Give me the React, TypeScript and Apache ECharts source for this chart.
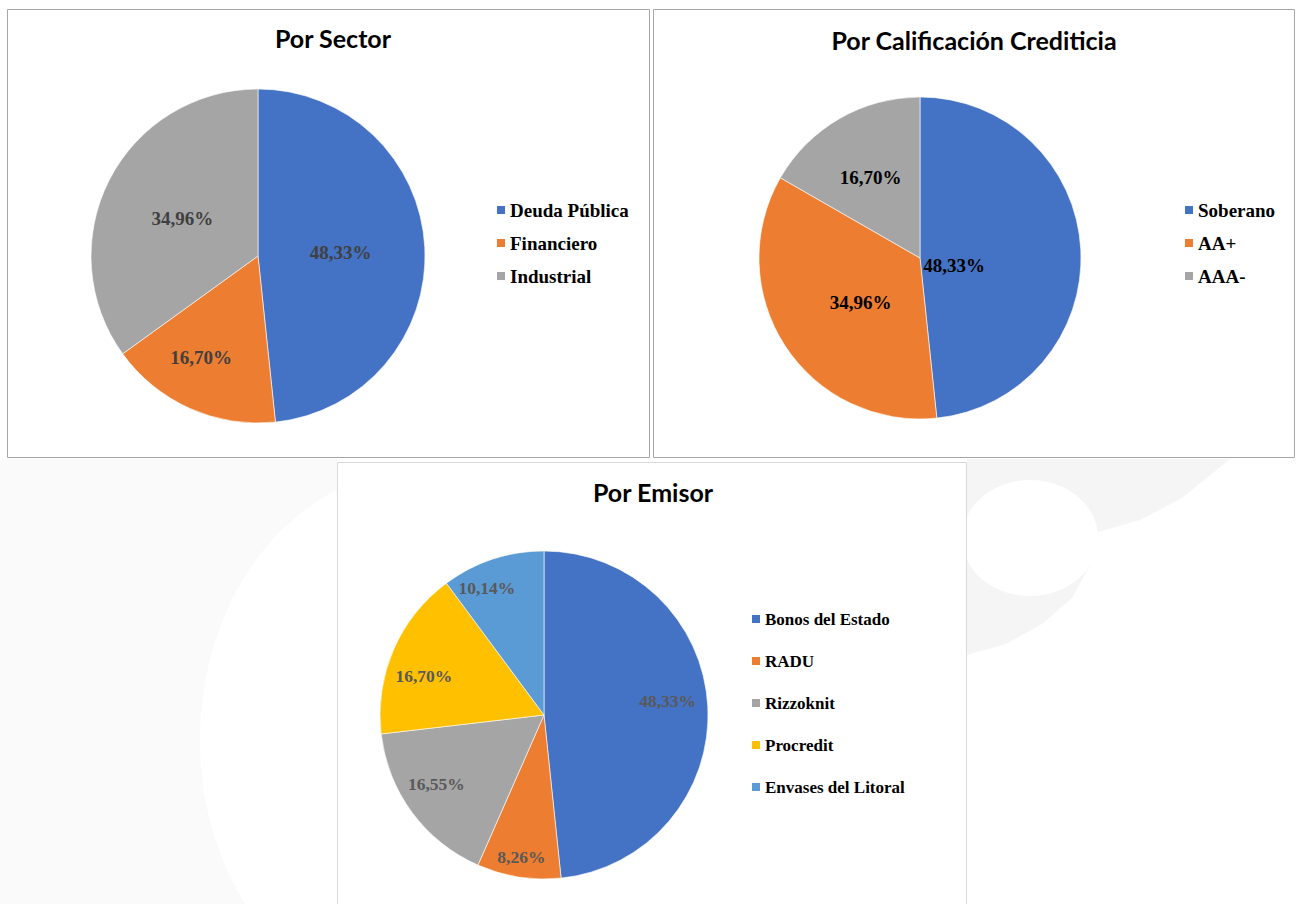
import React, { useEffect, useRef } from "react";
import * as echarts from "echarts";

// ---- data ----
const sectorNames = ["Deuda Pública", "Financiero", "Industrial"];
const sectorValues = [48.33, 16.7, 34.96];
const creditNames = ["Soberano", "AA+", "AAA-"];
const creditValues = [48.33, 34.96, 16.7];
const emisorNames = ["Bonos del Estado", "RADU", "Rizzoknit", "Procredit", "Envases del Litoral"];
const emisorValues = [48.33, 8.26, 16.55, 16.7, 10.14];

const titles = ["Por Sector", "Por Calificación Crediticia", "Por Emisor"];

const sectorColors = ["#4472C4", "#ED7D31", "#A5A5A5"];
const creditColors = ["#4472C4", "#ED7D31", "#A5A5A5"];
const emisorColors = ["#4472C4", "#ED7D31", "#A5A5A5", "#FFC000", "#5B9BD5"];

const fmt = (v: number) => v.toFixed(2).replace(".", ",") + "%";

// label placement: radial factor + small nudge per slice
const radial = (cx: number, cy: number, factors: number[], nudges: number[][]) => (p: any) => {
  const r = p.labelRect;
  const lx = r.x + r.width / 2;
  const ly = r.y + r.height / 2;
  const k = factors[p.dataIndex] ?? 1;
  const n = nudges[p.dataIndex] ?? [0, 0];
  return { dx: (lx - cx) * (k - 1) + n[0], dy: (ly - cy) * (k - 1) + n[1] };
};

const mkData = (names: string[], values: number[], colors: string[]) =>
  names.map((n, i) => ({ name: n, value: values[i], itemStyle: { color: colors[i] } }));

const serif = "'Liberation Serif', 'Times New Roman', serif";
const sans = "Lato, 'Open Sans', sans-serif";

export default function App() {
  const ref = useRef<HTMLDivElement>(null);
  useEffect(() => {
    document.body.style.margin = "0";
    const chart = echarts.init(ref.current!, null, { renderer: "svg" });
    const pieBase = (color: string, size: number) => ({
      type: "pie",
      startAngle: 90,
      clockwise: true,
      itemStyle: { borderColor: "#ffffff", borderWidth: 0.6 },
      label: {
        show: true,
        position: "inside",
        formatter: (p: any) => fmt(p.value),
        fontFamily: serif,
        fontWeight: "bold",
        fontSize: size,
        color,
      },
      labelLine: { show: false },
      emphasis: { disabled: true },
      silent: true,
    });
    const legendBase = (size: number, lh: number, gap: number) => ({
      orient: "vertical",
      icon: "rect",
      padding: 0,
      itemWidth: 10,
      itemHeight: 10,
      itemGap: gap,
      selectedMode: false,
      textStyle: { fontFamily: serif, fontWeight: "bold", fontSize: size, color: "#000", lineHeight: lh, padding: [0, 0, 0, -1] },
    });
    const titleStyle = { fontFamily: sans, fontWeight: "bold", fontSize: 25, color: "#000" };
    const option: any = {
      animation: false,
      backgroundColor: "#ffffff",
      graphic: [
        // faint watermark
        { type: "polygon", z: -20, silent: true, shape: { points: [[967, 459], [1230, 459], [1182, 498], [1140, 520], [1098, 532], [1092, 562], [1072, 598], [1042, 624], [1006, 644], [967, 655]] }, style: { fill: "#f5f5f5" } },
        { type: "ellipse", z: -19, silent: true, shape: { cx: 1030, cy: 538, rx: 68, ry: 58 }, style: { fill: "#ffffff" } },
        { type: "rect", z: -21, silent: true, shape: { x: 0, y: 459, width: 337, height: 445 }, style: { fill: "#fafafa" } },
        { type: "ellipse", z: -20, silent: true, shape: { cx: 420, cy: 740, rx: 220, ry: 270 }, style: { fill: "#ffffff" } },
        // panels
        { type: "rect", z: -10, silent: true, shape: { x: 7.5, y: 9.5, width: 642, height: 448 }, style: { fill: "#ffffff", stroke: "#a6a6a6", lineWidth: 1 } },
        { type: "rect", z: -10, silent: true, shape: { x: 653.5, y: 9.5, width: 641, height: 448 }, style: { fill: "#ffffff", stroke: "#a6a6a6", lineWidth: 1 } },
        { type: "rect", z: -10, silent: true, shape: { x: 337.5, y: 462.5, width: 629, height: 460 }, style: { fill: "#ffffff", stroke: "#d9d9d9", lineWidth: 1 } },
      ],
      title: [
        { text: titles[0], left: 333, top: 25, padding: 0, textAlign: "center", textStyle: titleStyle },
        { text: titles[1], left: 974, top: 27, padding: 0, textAlign: "center", textStyle: titleStyle },
        { text: titles[2], left: 653, top: 479, padding: 0, textAlign: "center", textStyle: titleStyle },
      ],
      legend: [
        { ...legendBase(19, 20, 13), data: sectorNames, left: 495, top: 200 },
        { ...legendBase(19, 20, 13), data: creditNames, left: 1183, top: 200 },
        { ...legendBase(17, 18, 24), data: emisorNames, left: 750, top: 610 },
      ],
      series: [
        {
          ...pieBase("#404040", 19),
          center: [258, 256],
          radius: 167,
          data: mkData(sectorNames, sectorValues, sectorColors),
          labelLayout: radial(258, 256, [0.98, 1.33, 1.02], [[-2, 1], [-10, -4], [3, 3]]),
        },
        {
          ...pieBase("#000000", 19),
          center: [920, 258],
          radius: 161,
          data: mkData(creditNames, creditValues, creditColors),
          labelLayout: radial(920, 258, [0.41, 0.92, 1.18], [[0, 9], [5, 3], [0, 5]]),
        },
        {
          ...pieBase("#595959", 17.5),
          center: [544, 715],
          radius: 164,
          data: mkData(emisorNames, emisorValues, emisorColors),
          labelLayout: radial(544, 715, [1.48, 1.72, 1.5, 1.54, 1.62], [[-2, -7], [0, -2], [-5, -7], [0, 13], [-14, 4]]),
        },
      ],
    };
    chart.setOption(option);
    return () => chart.dispose();
  }, []);
  return <div ref={ref} style={{ width: 1297, height: 904 }} />;
}
